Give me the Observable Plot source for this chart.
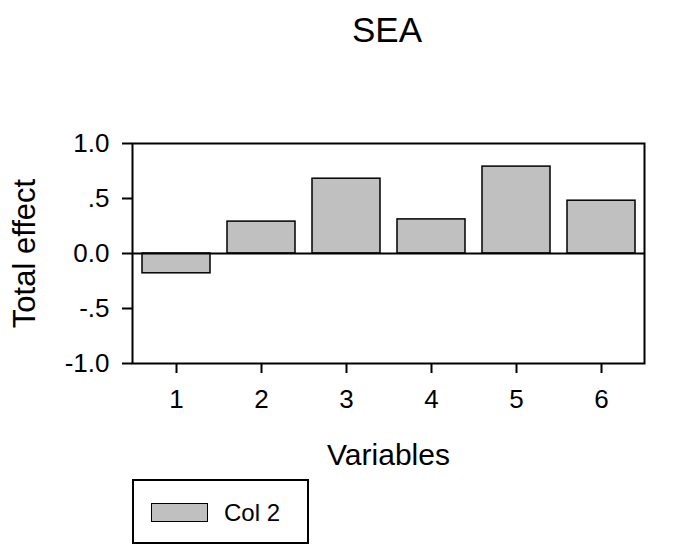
<!DOCTYPE html>
<html><head><meta charset="utf-8">
<script src="https://cdn.jsdelivr.net/npm/d3@7"></script>
<script src="https://cdn.jsdelivr.net/npm/@observablehq/plot@0.6"></script>
<style>
body{margin:0;background:#fff;font-family:"Liberation Sans",Arial,sans-serif;}
#wrap{position:relative;width:698px;height:553px;overflow:hidden;}
#title{position:absolute;left:0;width:774px;top:12px;text-align:center;font-size:35px;line-height:35px;color:#000;}
#chart{position:absolute;left:0;top:0;}
#legend{position:absolute;left:132px;top:479px;width:173px;height:61px;border:2px solid #000;background:#fff;}
#swatch{position:absolute;left:17px;top:22px;width:55px;height:17px;background:#c0c0c0;border:1.5px solid #000;}
#ltext{position:absolute;left:90px;top:20px;font-size:24px;line-height:24px;color:#000;}
</style></head>
<body>
<div id="wrap">
  <div id="chart"></div>
  <div id="title">SEA</div>
  <div id="legend"><div id="swatch"></div><div id="ltext">Col 2</div></div>
</div>
<script>
const variables = ["1", "2", "3", "4", "5", "6"];
const totalEffect = [-0.18, 0.29, 0.68, 0.31, 0.79, 0.48];
const yTicks = [-1, -0.5, 0, 0.5, 1];
const yTickLabels = ["-1.0", "-.5", "0.0", ".5", "1.0"];
const seriesName = "Col 2";

const data = variables.map((v, i) => ({variable: v, effect: totalEffect[i], series: seriesName}));

const plot = Plot.plot({
  width: 698,
  height: 553,
  marginLeft: 132,
  marginRight: 54,
  marginTop: 143,
  marginBottom: 190,
  style: {fontFamily: '"Liberation Sans", Arial, sans-serif', fontSize: "26px", background: "transparent", color: "#000"},
  x: {domain: variables, paddingInner: 0.2, paddingOuter: 0.1, label: null},
  y: {domain: [-1, 1], label: null},
  marks: [
    Plot.barY(data, {x: "variable", y: "effect", fill: "#c0c0c0", stroke: "#000", strokeWidth: 1.5}),
    Plot.ruleY([0], {stroke: "#000", strokeWidth: 2}),
    Plot.frame({stroke: "#000", strokeWidth: 2}),
    Plot.axisY({ticks: yTicks, tickFormat: d => yTickLabels[yTicks.indexOf(d)], tickSize: 10, tickPadding: 13, strokeWidth: 2, label: null, fontSize: 26}),
    Plot.axisX({tickSize: 10, tickPadding: 16, strokeWidth: 2, label: null, fontSize: 26}),
    Plot.text(["Total effect"], {frameAnchor: "left", dx: -107, rotate: -90, textAnchor: "middle", lineAnchor: "middle", fontSize: 31, fill: "#000"}),
    Plot.text(["Variables"], {frameAnchor: "bottom", dy: 92, textAnchor: "middle", lineAnchor: "middle", fontSize: 30, fill: "#000"})
  ]
});
document.getElementById("chart").appendChild(plot);
</script>
</body></html>
